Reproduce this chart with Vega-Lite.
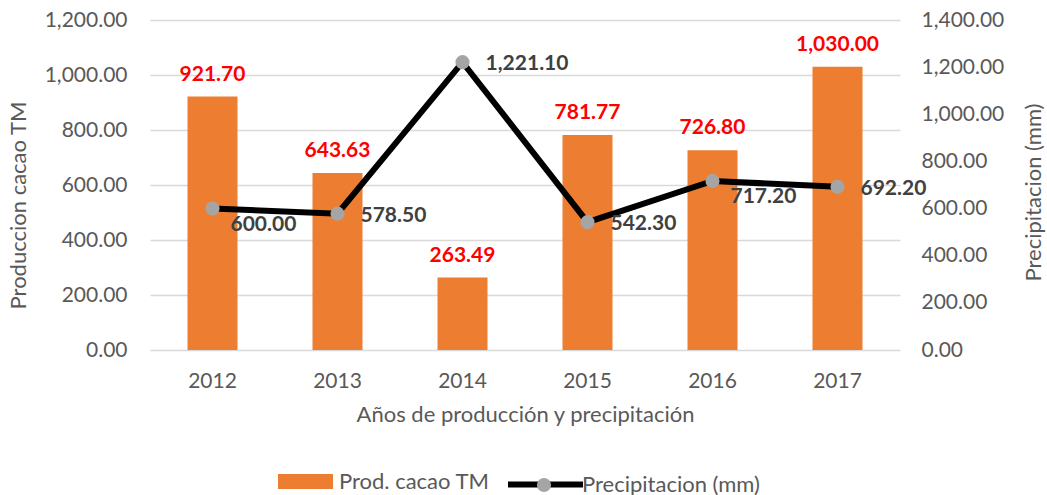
{
  "$schema": "https://vega.github.io/schema/vega-lite/v6.json",
  "width": 750,
  "height": 330,
  "autosize": {"type": "none"},
  "padding": {"left": 150, "top": 20, "right": 147, "bottom": 145},
  "background": "#ffffff",
  "config": {
    "font": "Lato",
    "view": {"stroke": null},
    "axis": {
      "labelFont": "Lato",
      "titleFont": "Lato",
      "labelColor": "#595959",
      "titleColor": "#595959",
      "labelFontSize": 21,
      "titleFontSize": 22,
      "titleFontWeight": "normal",
      "ticks": false,
      "domain": false
    },
    "legend": {
      "labelFont": "Lato",
      "labelFontSize": 22,
      "labelColor": "#595959",
      "labelLimit": 400,
      "padding": 0
    }
  },
  "data": {
    "values": [
      {"year": "2012", "prod": 921.70, "precip": 600.00},
      {"year": "2013", "prod": 643.63, "precip": 578.50},
      {"year": "2014", "prod": 263.49, "precip": 1221.10},
      {"year": "2015", "prod": 781.77, "precip": 542.30},
      {"year": "2016", "prod": 726.80, "precip": 717.20},
      {"year": "2017", "prod": 1030.00, "precip": 692.20}
    ]
  },
  "encoding": {
    "x": {
      "field": "year",
      "type": "ordinal",
      "scale": {"paddingInner": 0.6, "paddingOuter": 0.3},
      "axis": {
        "title": "Años de producción y precipitación",
        "labelAngle": 0,
        "labelPadding": 20,
        "titlePadding": 13,
        "grid": false
      }
    }
  },
  "layer": [
    {
      "encoding": {
        "y": {
          "field": "prod",
          "type": "quantitative",
          "scale": {"domain": [0, 1200], "nice": false},
          "axis": {
            "title": "Produccion cacao TM",
            "orient": "left",
            "format": ",.2f",
            "values": [0, 200, 400, 600, 800, 1000, 1200],
            "labelPadding": 23,
            "titleX": -132,
            "titleY": 185,
            "titleAngle": -90,
            "titleAlign": "center",
            "titleBaseline": "middle",
            "grid": true,
            "gridColor": "#d9d9d9",
            "gridWidth": 1.5
          }
        }
      },
      "layer": [
        {
          "mark": {"type": "bar"},
          "encoding": {
            "color": {
              "datum": "Prod. cacao TM",
              "scale": {"range": ["#ED7D31"]},
              "legend": {
                "title": null,
                "orient": "none",
                "legendX": 128,
                "legendY": 434,
                "symbolType": "M-1,-0.27H1V0.27H-1Z",
                "symbolSize": 3025,
                "symbolStrokeWidth": 0,
                "labelOffset": 6
              }
            }
          }
        },
        {
          "mark": {"type": "text", "baseline": "bottom", "dy": -12, "fontSize": 21, "fontWeight": "bold", "color": "#FF0000", "font": "Lato"},
          "encoding": {
            "text": {"field": "prod", "type": "quantitative", "format": ",.2f"}
          }
        }
      ]
    },
    {
      "encoding": {
        "y": {
          "field": "precip",
          "type": "quantitative",
          "scale": {"domain": [0, 1400], "nice": false},
          "axis": {
            "title": "Precipitacion (mm)",
            "orient": "right",
            "format": ",.2f",
            "values": [0, 200, 400, 600, 800, 1000, 1200, 1400],
            "labelPadding": 21,
            "titleX": 133,
            "titleY": 172,
            "titleAngle": -90,
            "titleAlign": "center",
            "titleBaseline": "middle",
            "grid": false
          }
        }
      },
      "layer": [
        {
          "mark": {"type": "line", "strokeWidth": 6},
          "encoding": {
            "stroke": {
              "datum": "Precipitacion (mm)",
              "scale": {"range": ["#000000"]},
              "legend": {
                "title": null,
                "orient": "none",
                "legendX": 355,
                "legendY": 424,
                "symbolType": "stroke",
                "symbolSize": 5625,
                "symbolStrokeWidth": 6,
                "symbolStrokeColor": "#000000",
                "labelOffset": -4
              }
            }
          }
        },
        {
          "mark": {"type": "point", "filled": true, "opacity": 1, "color": "#A5A5A5", "size": 200},
          "encoding": {
            "shape": {
              "datum": "pt",
              "scale": {"range": ["circle"]},
              "legend": {
                "title": null,
                "orient": "none",
                "legendX": 383,
                "legendY": 454,
                "symbolSize": 200,
                "symbolFillColor": "#A5A5A5",
                "symbolStrokeWidth": 0,
                "symbolOpacity": 1,
                "labelExpr": "''"
              }
            }
          }
        },
        {
          "transform": [{"filter": "datum.year != '2012' && datum.year != '2016'"}],
          "mark": {"type": "text", "align": "left", "baseline": "middle", "dx": 23, "dy": 2, "fontSize": 21, "fontWeight": "bold", "color": "#404040", "font": "Lato"},
          "encoding": {
            "text": {"field": "precip", "type": "quantitative", "format": ",.2f"}
          }
        },
        {
          "transform": [{"filter": "datum.year == '2012' || datum.year == '2016'"}],
          "mark": {"type": "text", "align": "left", "baseline": "middle", "dx": 18, "dy": 16, "fontSize": 21, "fontWeight": "bold", "color": "#404040", "font": "Lato"},
          "encoding": {
            "text": {"field": "precip", "type": "quantitative", "format": ",.2f"}
          }
        }
      ]
    }
  ],
  "resolve": {"scale": {"y": "independent"}}
}
